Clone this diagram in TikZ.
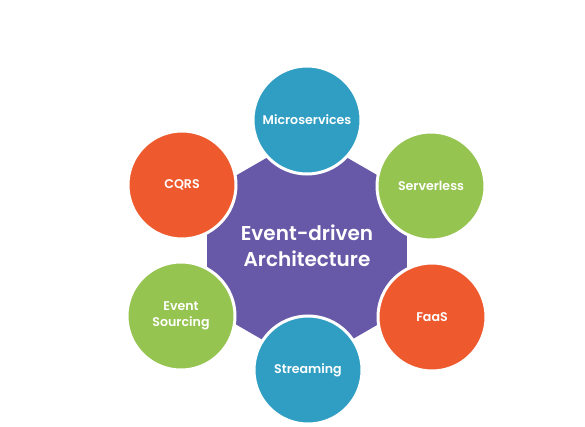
\documentclass[tikz,border=0pt]{standalone}
\usepackage{fontspec}
\setmainfont{Poppins}
\newfontfamily\labelfont{Poppins SemiBold}
\usetikzlibrary{calc}
\definecolor{edateal}{HTML}{2F9EC2}
\definecolor{edagreen}{HTML}{95C450}
\definecolor{edaorange}{HTML}{EE5A2E}
\definecolor{edapurple}{HTML}{6759A8}
\tikzset{
  topic/.style={circle, minimum size=108pt, inner sep=0pt, draw=white,
    line width=3pt, text=white, font=\labelfont\fontsize{12.6}{16}\selectfont,
    align=center},
  hub/.style={text=white, font=\labelfont\fontsize{20}{26}\selectfont, align=center}
}
\begin{document}
\begin{tikzpicture}[x=1pt,y=-1pt]
  \useasboundingbox[fill=white] (0,0) rectangle (585,427);
  % twelve-sided hub
  \fill[edapurple] (307,250) ++(15:103.5)
    \foreach \a in {45,75,...,345} { -- ($(307,250)+(\a:103.5)$) } -- cycle;
  \node[hub] (eda) at (307,246) {Event-driven\\Architecture};
  % surrounding topics
  \node[topic, fill=edateal]   (micro)  at (307,120) {Microservices};
  \node[topic, fill=edagreen]  (server) at (431,186) {Serverless};
  \node[topic, fill=edaorange] (faas)   at (432,317) {FaaS};
  \node[topic, fill=edateal]   (stream) at (308,370) {Streaming};
  \node[topic, fill=edagreen]  (evsrc)  at (181,316) {Event\\Sourcing};
  \node[topic, fill=edaorange] (cqrs)   at (182,185) {CQRS};
\end{tikzpicture}
\end{document}
